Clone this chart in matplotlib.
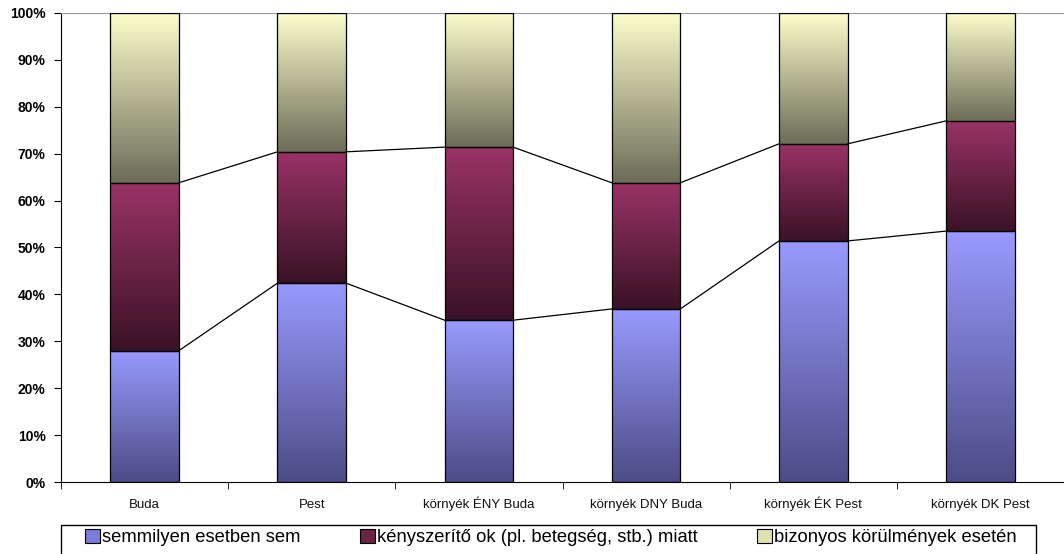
import numpy as np
import matplotlib
matplotlib.use('Agg')
import matplotlib.pyplot as plt
from matplotlib.colors import LinearSegmentedColormap
from matplotlib.patches import Patch, Rectangle
from matplotlib.ticker import PercentFormatter, FixedLocator

plt.rcParams['font.family'] = ['Liberation Sans', 'DejaVu Sans']

# data (shares, %)
categories = ['Buda', 'Pest', 'környék ÉNY Buda', 'környék DNY Buda',
              'környék ÉK Pest', 'környék DK Pest']
semmilyen = [28.0, 42.4, 34.5, 36.9, 51.4, 53.5]
kenyszerito = [35.8, 28.0, 36.9, 26.9, 20.7, 23.5]
bizonyos = [36.2, 29.6, 28.6, 36.2, 27.9, 23.0]
series_names = ['semmilyen esetben sem',
                'kényszerítő ok (pl. betegség, stb.) miatt',
                'bizonyos körülmények esetén']

# gradient colours (top, bottom) per series
grads = [('#9a9aff', '#4c4c86'), ('#9a3366', '#3a1226'), ('#fdfdcc', '#6c6c58')]
legend_cols = ['#7b7bd8', '#6a2246', '#e0e0b0']

fig = plt.figure(figsize=(10.64, 5.54), dpi=100)
ax = fig.add_axes([61 / 1064, 1 - 482 / 554, 1 - 61 / 1064, (482 - 13) / 554])

x = np.arange(len(categories))
width = 0.41
data = [semmilyen, kenyszerito, bizonyos]
bottom = np.zeros(len(categories))
tops = []
grad = np.linspace(1, 0, 256).reshape(-1, 1)
for vals, (ctop, cbot) in zip(data, grads):
    cmap = LinearSegmentedColormap.from_list('g', [cbot, ctop])
    bars = ax.bar(x, vals, width, bottom=bottom, facecolor='none',
                  edgecolor='black', linewidth=0.9, zorder=3)
    for b in bars:
        x0, y0 = b.get_x(), b.get_y()
        im = ax.imshow(grad, cmap=cmap, aspect='auto', zorder=2,
                       extent=[x0, x0 + b.get_width(), y0, y0 + b.get_height()],
                       vmin=0, vmax=1)
        im.set_clip_path(b)
    bottom = bottom + np.array(vals)
    tops.append(bottom.copy())

# series lines between bars
for t in tops[:2]:
    for i in range(len(categories) - 1):
        ax.plot([x[i] + width / 2, x[i + 1] - width / 2], [t[i], t[i + 1]],
                color='black', linewidth=0.9, zorder=4)

ax.set_xlim(-0.5, len(categories) - 0.5)
ax.set_ylim(0, 100)
ax.yaxis.set_major_locator(FixedLocator(np.arange(0, 101, 10)))
ax.yaxis.set_major_formatter(PercentFormatter(decimals=0))
ax.set_xticks(x)
ax.set_xticklabels(categories, fontsize=9.5, color='#111111', va='baseline')
ax.set_xticks(np.arange(-0.5, len(categories), 1), minor=True)
ax.tick_params(axis='x', which='major', length=0, pad=19)
ax.tick_params(axis='x', which='minor', length=5, direction='out')
ax.tick_params(axis='y', length=5, direction='out', labelsize=10, pad=6)
for lab in ax.get_yticklabels():
    lab.set_fontweight('bold')
ax.spines['right'].set_visible(False)
ax.spines['top'].set_color('#999999')

# legend box
fig.add_artist(Rectangle((61 / 1064, 1 - 560 / 554), 975 / 1064, 35 / 554,
                         transform=fig.transFigure, facecolor='white',
                         edgecolor='black', linewidth=1.0))
handles = [Patch(facecolor=c, edgecolor='black', linewidth=0.8) for c in legend_cols]
fig.legend(handles, series_names, loc='upper left', ncol=3, mode='expand',
           bbox_to_anchor=(85 / 1064, 1 - 529 / 554, 932 / 1064, 0.0),
           fontsize=13.2, frameon=False, borderaxespad=0, borderpad=0,
           handlelength=0.8, handleheight=0.8, handletextpad=0.15)

fig.savefig('out.png', dpi=100)
